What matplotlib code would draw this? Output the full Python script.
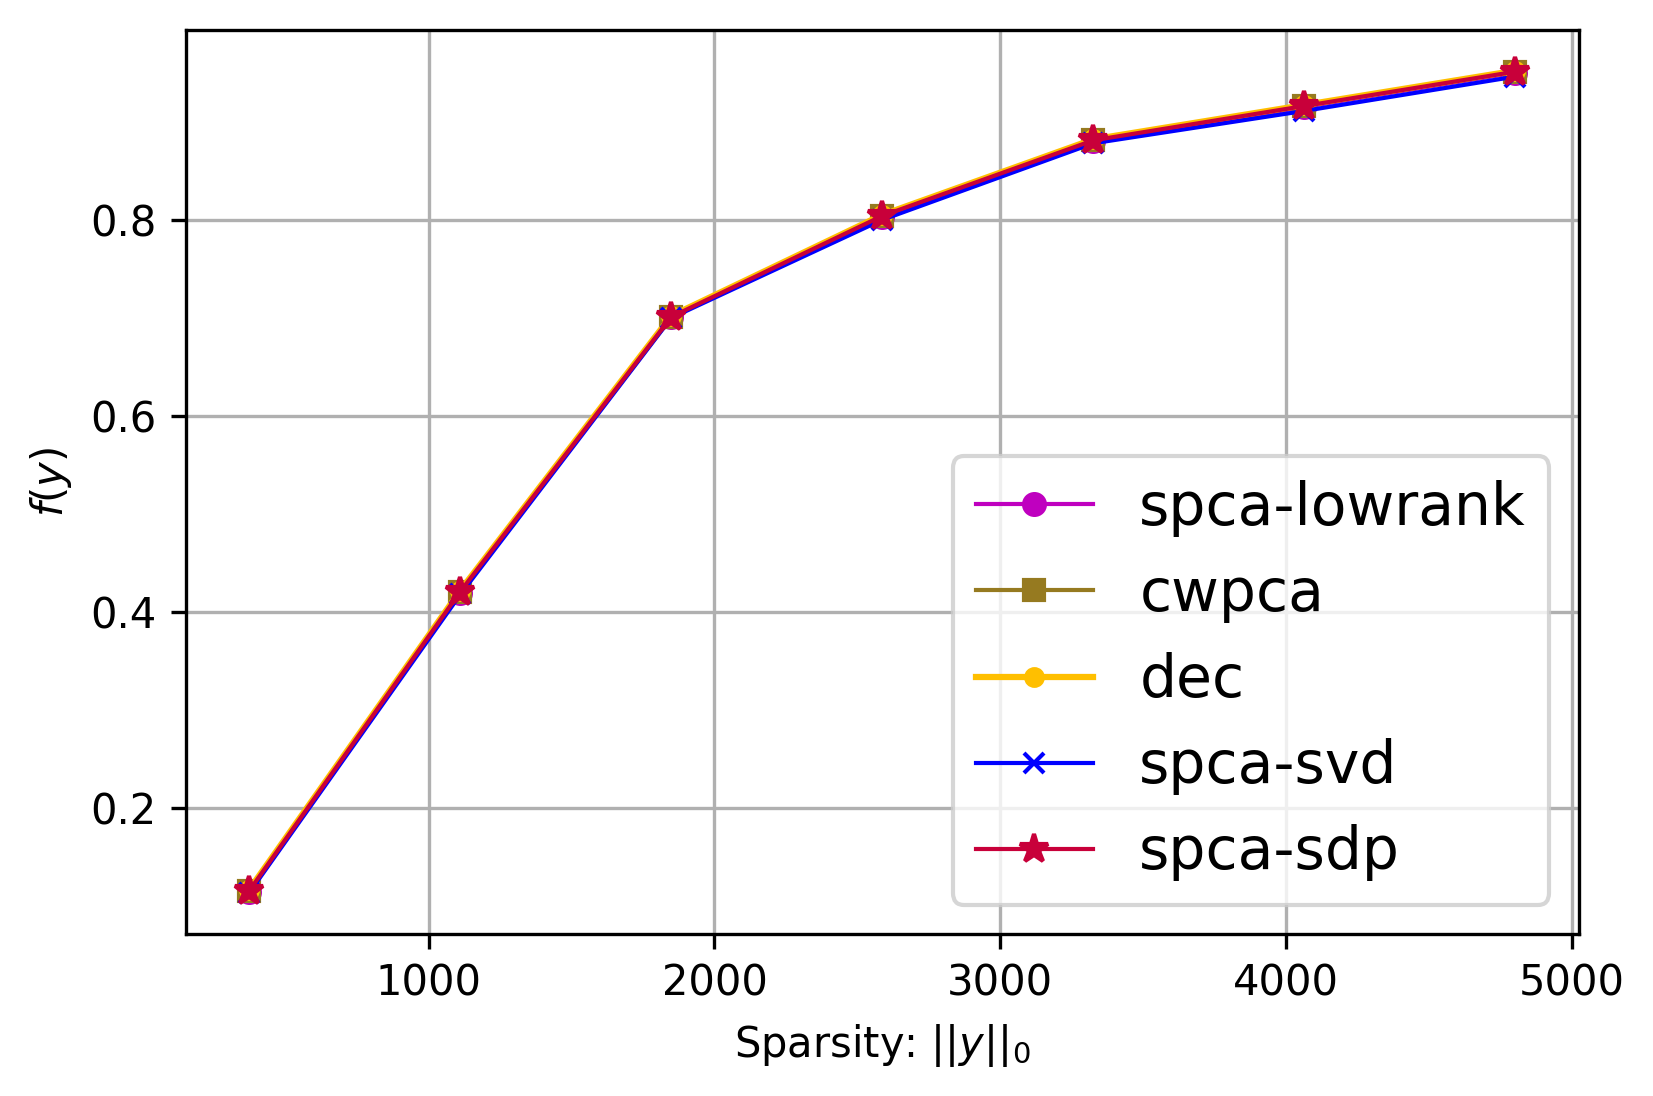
import matplotlib
matplotlib.use('Agg')
import matplotlib.pyplot as plt

# sparsity levels (number of non-zeros)
sparsity = [373, 1111, 1849, 2587, 3325, 4063, 4801]

# objective values f(y) per method
f_lowrank = [0.115, 0.420, 0.701, 0.803, 0.880, 0.915, 0.950]
f_cwpca = [0.116, 0.421, 0.701, 0.804, 0.881, 0.916, 0.951]
f_dec = [0.117, 0.422, 0.702, 0.805, 0.882, 0.917, 0.952]
f_svd = [0.114, 0.418, 0.700, 0.800, 0.878, 0.911, 0.946]
f_sdp = [0.116, 0.421, 0.701, 0.804, 0.881, 0.916, 0.951]

fig = plt.figure(figsize=(1653 / 300, 1096 / 300), dpi=300)
ax = fig.add_subplot(111)
fig.subplots_adjust(left=0.1125, right=0.955, bottom=0.148, top=0.973)

ax.plot(sparsity, f_lowrank, color='m', marker='o', markersize=5, linewidth=1, label='spca-lowrank')
ax.plot(sparsity, f_cwpca, color='#967a20', marker='s', markersize=5, linewidth=1, label='cwpca')
ax.plot(sparsity, f_dec, color='#ffbf00', marker='o', markersize=4, linewidth=1.5, label='dec')
ax.plot(sparsity, f_svd, color='b', marker='x', markersize=5, linewidth=1, label='spca-svd')
ax.plot(sparsity, f_sdp, color='#c8003a', marker='*', markersize=7, linewidth=1, label='spca-sdp')

ax.set_xlabel(r'Sparsity: $||y||_0$')
ax.set_ylabel(r'$f(y)$')
ax.set_yticks([0.2, 0.4, 0.6, 0.8])
ax.grid(True)
ax.legend(loc='lower right', fontsize=14)

fig.savefig('out.png', dpi=300)
